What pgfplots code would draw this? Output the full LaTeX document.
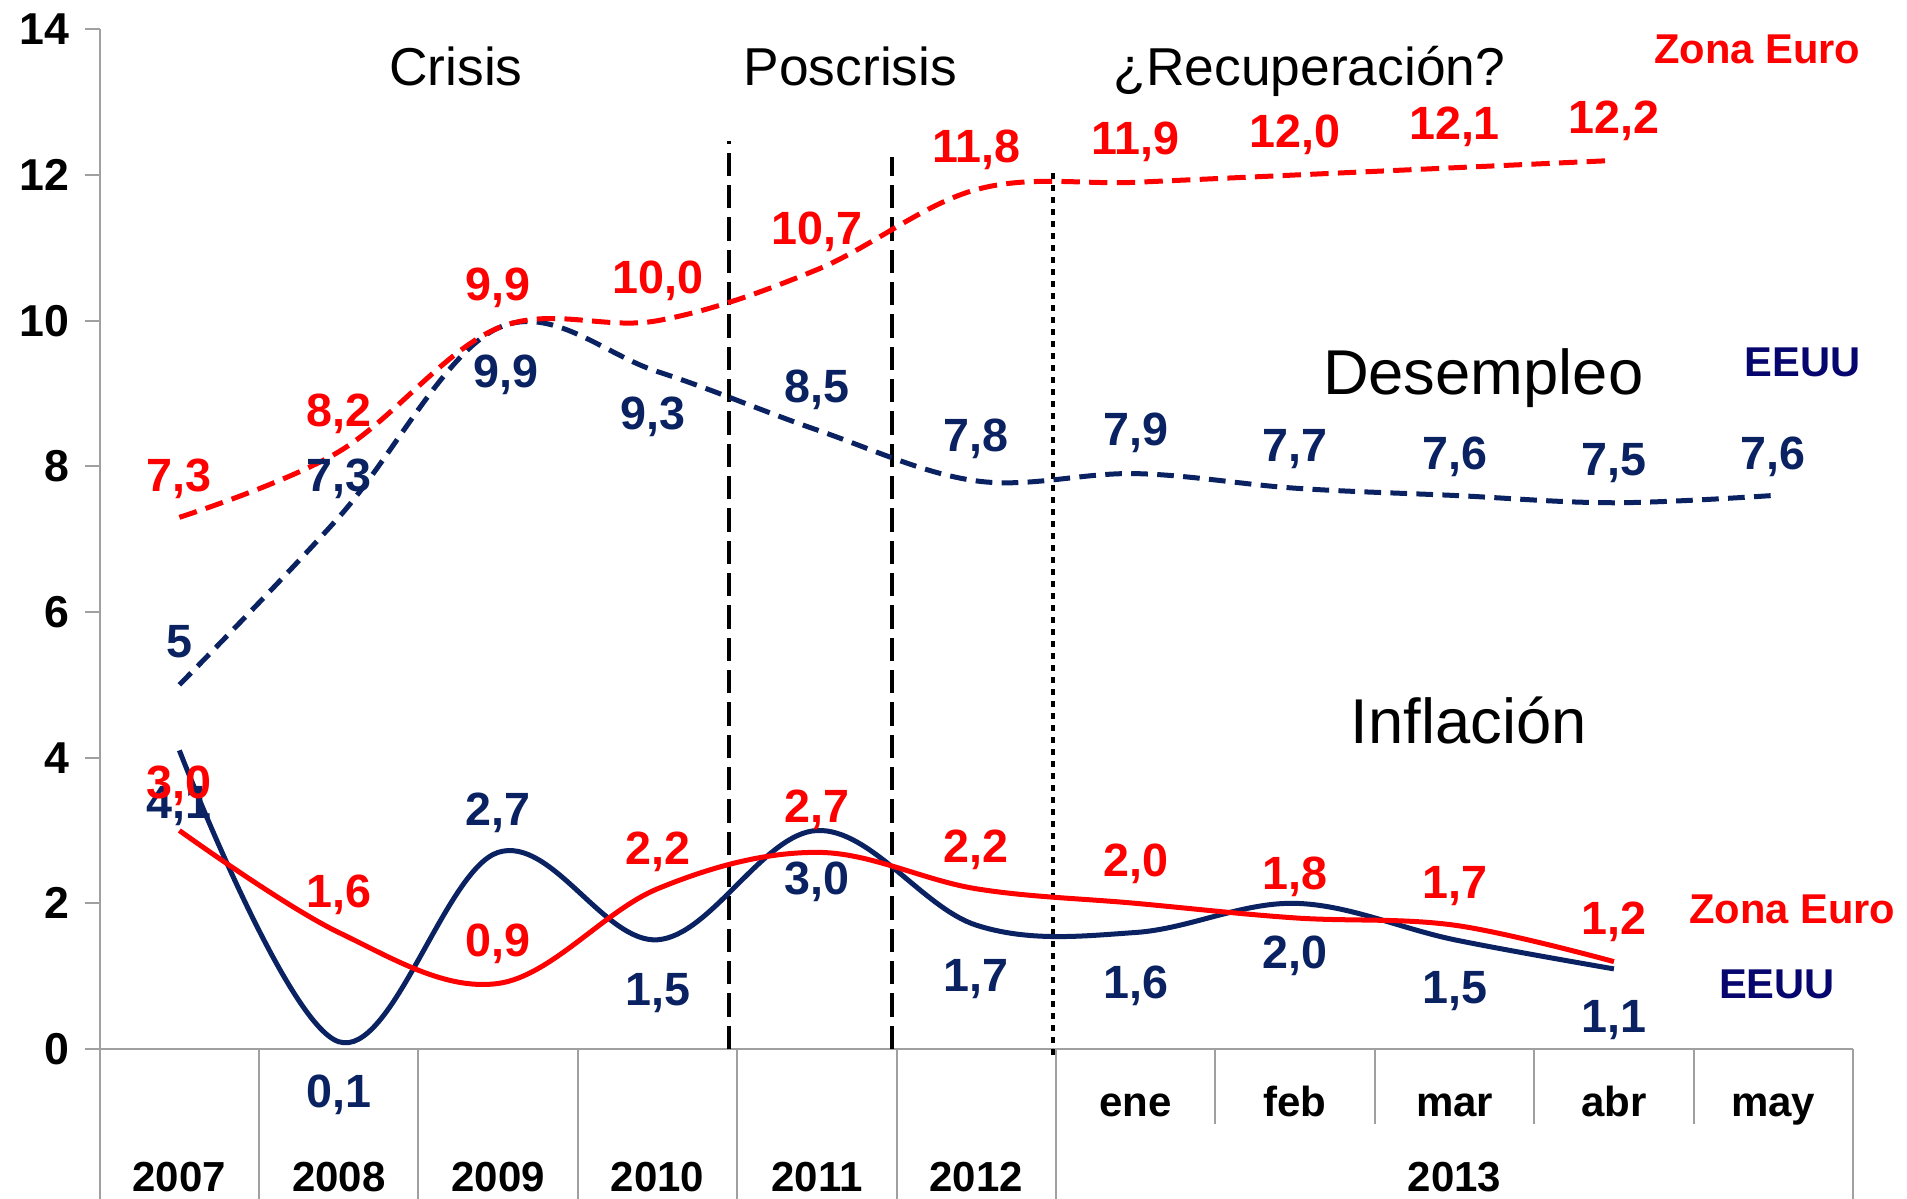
\documentclass[border=0pt]{standalone}
\usepackage{fontspec}
\setmainfont{Liberation Sans}
\usepackage{pgfplots}
\pgfplotsset{compat=1.18}
\definecolor{zred}{HTML}{FF0000}
\definecolor{navy}{HTML}{0A2262}
\definecolor{eeuu}{HTML}{06066E}
\definecolor{axgray}{HTML}{A0A0A0}
\newcommand\fs[1]{\fontsize{#1}{#1}\selectfont}
\newcommand\lab[4]{\node[anchor=base, text=#1, font=\fs{14}\bfseries, inner sep=0pt] at (axis cs:#2,#3) {#4};}
\begin{document}
\begin{tikzpicture}
\useasboundingbox (-29.9pt,-44.7pt) rectangle (542.2pt,314.7pt);
\begin{axis}[
 scale only axis, width=526pt, height=305.9pt,
 xmin=-0.5, xmax=10.5, ymin=0, ymax=14,
 axis x line=bottom, axis y line=left,
 axis line style={-, axgray, line width=0.6pt},
 xtick=\empty,
 ytick={0,2,...,14},
 tick align=outside, major tick length=4.5pt,
 tick style={axgray, line width=0.6pt},
 /pgf/number format/assume math mode=true,
 yticklabel style={font=\fs{13.4}\bfseries, xshift=-1.2pt},
 clip=false,
]
% separators below the axis
\pgfplotsinvokeforeach{-0.5,0.5,1.5,2.5,3.5,4.5,5.5,10.5}{\draw[axgray, line width=0.6pt] (axis cs:#1,0) -- (axis cs:#1,-2.1);}
\pgfplotsinvokeforeach{6.5,7.5,8.5,9.5}{\draw[axgray, line width=0.6pt] (axis cs:#1,0) -- (axis cs:#1,-1.035);}
% period dividers
\addplot[black, line width=1.1pt, dash pattern=on 7pt off 2.7pt] coordinates {(3.45,0) (3.45,12.47)};
\addplot[black, line width=1.1pt, dash pattern=on 7pt off 2.7pt] coordinates {(4.47,0) (4.47,12.25)};
\addplot[black, line width=1.1pt, dash pattern=on 1.8pt off 1.8pt] coordinates {(5.48,-0.08) (5.48,12.1)};
% Desempleo
\addplot[navy, line width=1.5pt, smooth, tension=0.6, dash pattern=on 5pt off 2.8pt] coordinates {(0,5.0) (1,7.3) (2,9.9) (3,9.3) (4,8.5) (5,7.8) (6,7.9) (7,7.7) (8,7.6) (9,7.5) (10,7.6)};
\addplot[zred, line width=1.5pt, smooth, tension=0.6, dash pattern=on 5.5pt off 2.8pt] coordinates {(0,7.3) (1,8.2) (2,9.9) (3,10.0) (4,10.7) (5,11.8) (6,11.9) (7,12.0) (8,12.1) (9,12.2)};
% Inflacion
\addplot[navy, line width=1.5pt, smooth, tension=0.6] coordinates {(0,4.1) (1,0.1) (2,2.7) (3,1.5) (4,3.0) (5,1.7) (6,1.6) (7,2.0) (8,1.5) (9,1.1)};
\addplot[zred, line width=1.5pt, smooth, tension=0.6] coordinates {(0,3.0) (1,1.6) (2,0.9) (3,2.2) (4,2.7) (5,2.2) (6,2.0) (7,1.8) (8,1.7) (9,1.2)};
% category labels
\node[anchor=base, font=\fs{12.6}\bfseries] at (axis cs:0,-1.95) {2007};
\node[anchor=base, font=\fs{12.6}\bfseries] at (axis cs:1,-1.95) {2008};
\node[anchor=base, font=\fs{12.6}\bfseries] at (axis cs:2,-1.95) {2009};
\node[anchor=base, font=\fs{12.6}\bfseries] at (axis cs:3,-1.95) {2010};
\node[anchor=base, font=\fs{12.6}\bfseries] at (axis cs:4,-1.95) {2011};
\node[anchor=base, font=\fs{12.6}\bfseries] at (axis cs:5,-1.95) {2012};
\node[anchor=base, font=\fs{12.6}\bfseries] at (axis cs:8,-1.95) {2013};
\node[anchor=base, font=\fs{12.6}\bfseries] at (axis cs:6,-0.92) {ene};
\node[anchor=base, font=\fs{12.6}\bfseries] at (axis cs:7,-0.92) {feb};
\node[anchor=base, font=\fs{12.6}\bfseries] at (axis cs:8,-0.92) {mar};
\node[anchor=base, font=\fs{12.6}\bfseries] at (axis cs:9,-0.92) {abr};
\node[anchor=base, font=\fs{12.6}\bfseries] at (axis cs:10,-0.92) {may};
% titles
\node[anchor=base, font=\fs{16}] at (axis cs:1.735,13.23) {Crisis};
\node[anchor=base, font=\fs{16}] at (axis cs:4.21,13.23) {Poscrisis};
\node[anchor=base, font=\fs{16}] at (axis cs:7.09,13.23) {¿Recuperación?};
\node[anchor=base, font=\fs{19}] at (axis cs:8.18,8.98) {Desempleo};
\node[anchor=base, font=\fs{19}] at (axis cs:8.09,4.20) {Inflación};
% series names
\node[anchor=base east, inner sep=0pt, text=zred, font=\fs{12.5}\bfseries] at (axis cs:10.55,13.53) {Zona Euro};
\node[anchor=base east, inner sep=0pt, text=eeuu, font=\fs{12.5}\bfseries] at (axis cs:10.55,9.24) {EEUU};
\node[anchor=base east, inner sep=0pt, text=zred, font=\fs{12.5}\bfseries] at (axis cs:10.77,1.72) {Zona Euro};
\node[anchor=base east, inner sep=0pt, text=eeuu, font=\fs{12.5}\bfseries] at (axis cs:10.39,0.70) {EEUU};
% data labels: desempleo EEUU
\lab{navy}{0}{5.38}{5}
\lab{navy}{1}{7.66}{7,3}
\lab{navy}{2.05}{9.08}{9,9}
\lab{navy}{2.97}{8.50}{9,3}
\lab{navy}{4}{8.88}{8,5}
\lab{navy}{5}{8.20}{7,8}
\lab{navy}{6}{8.28}{7,9}
\lab{navy}{7}{8.06}{7,7}
\lab{navy}{8}{7.96}{7,6}
\lab{navy}{9}{7.88}{7,5}
\lab{navy}{10}{7.96}{7,6}
% desempleo Zona Euro
\lab{zred}{0}{7.66}{7,3}
\lab{zred}{1}{8.55}{8,2}
\lab{zred}{2}{10.28}{9,9}
\lab{zred}{3}{10.37}{10,0}
\lab{zred}{4}{11.05}{10,7}
\lab{zred}{5}{12.17}{11,8}
\lab{zred}{6}{12.28}{11,9}
\lab{zred}{7}{12.38}{12,0}
\lab{zred}{8}{12.49}{12,1}
\lab{zred}{9}{12.57}{12,2}
% inflacion EEUU
\lab{navy}{0}{3.16}{4,1}
\lab{navy}{1}{-0.80}{0,1}
\lab{navy}{2}{3.07}{2,7}
\lab{navy}{3}{0.60}{1,5}
\lab{navy}{4}{2.12}{3,0}
\lab{navy}{5}{0.79}{1,7}
\lab{navy}{6}{0.69}{1,6}
\lab{navy}{7}{1.10}{2,0}
\lab{navy}{8}{0.62}{1,5}
\lab{navy}{9}{0.22}{1,1}
% inflacion Zona Euro
\lab{zred}{0}{3.44}{3,0}
\lab{zred}{1}{1.94}{1,6}
\lab{zred}{2}{1.27}{0,9}
\lab{zred}{3}{2.54}{2,2}
\lab{zred}{4}{3.11}{2,7}
\lab{zred}{5}{2.56}{2,2}
\lab{zred}{6}{2.37}{2,0}
\lab{zred}{7}{2.19}{1,8}
\lab{zred}{8}{2.07}{1,7}
\lab{zred}{9}{1.57}{1,2}
\end{axis}
\end{tikzpicture}
\end{document}
